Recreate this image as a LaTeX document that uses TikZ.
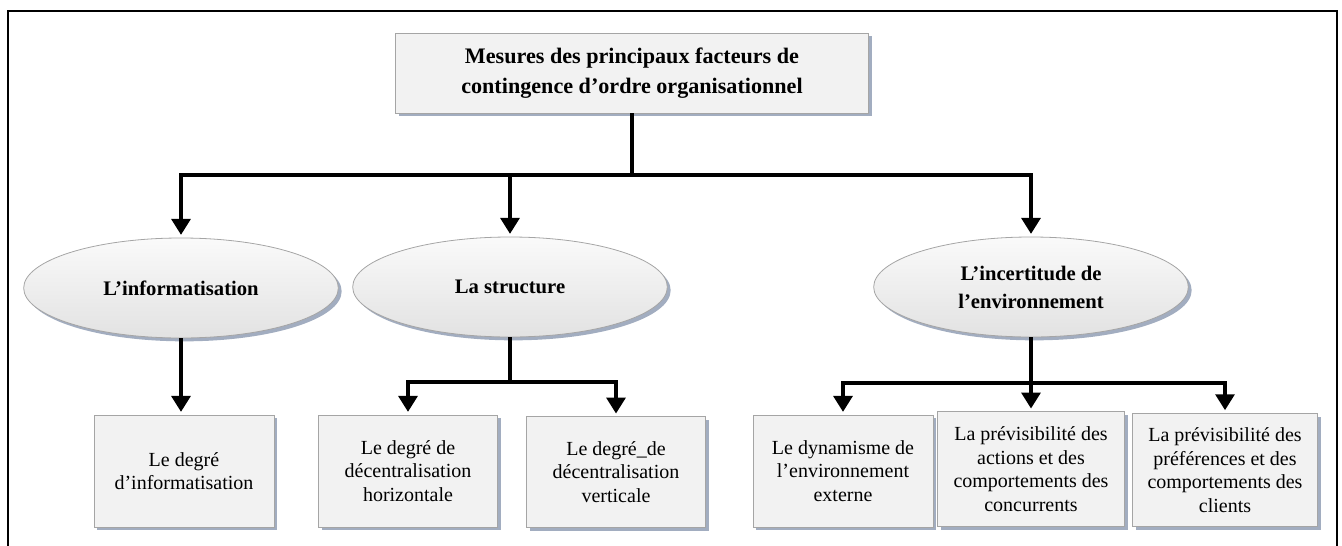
\documentclass[tikz,border=0pt]{standalone}
\usepackage{fontspec}
\setmainfont{Liberation Serif}
\usetikzlibrary{shapes.geometric,shadows,arrows.meta}
\definecolor{boxfill}{RGB}{242,242,242}
\definecolor{boxline}{RGB}{165,165,165}
\definecolor{shade}{RGB}{162,173,192}
\definecolor{ovaltop}{RGB}{250,250,250}
\definecolor{ovalbot}{RGB}{226,226,226}

\begin{document}
\begin{tikzpicture}[x=0.75pt,y=-0.75pt,
    box/.style={draw=boxline, fill=boxfill, line width=0.6pt, align=center, inner sep=2pt,
      drop shadow={shadow xshift=2.5pt, shadow yshift=-2.5pt, fill=shade, opacity=1},
      font=\fontsize{15}{17.6}\selectfont},
    head/.style={box, font=\bfseries\fontsize{16.6}{23}\selectfont},
    oval/.style={ellipse, draw=boxline, line width=0.6pt, top color=ovaltop, bottom color=ovalbot,
      align=center, inner sep=0pt, minimum width=236pt, minimum height=75pt,
      drop shadow={shadow xshift=2.5pt, shadow yshift=-2.5pt, fill=shade, opacity=1},
      font=\bfseries\fontsize{15.5}{21}\selectfont},
    stem/.style={line width=3.2pt},
    link/.style={stem, -{Triangle[width=14pt,length=12pt]}, shorten >=2pt},
  ]
  \useasboundingbox (0,0) rectangle (1342,546);
  % frame
  \draw[line width=1pt] (8,546) -- (8,11) -- (1337,11) -- (1337,546);

  \node[head, minimum width=355pt, minimum height=60pt] (top) at (632,73)
    {Mesures des principaux facteurs de\\contingence d’ordre organisationnel};

  \node[oval] (info) at (181,288) {L’informatisation};
  \node[oval] (struct) at (510,287) {La structure};
  \node[oval] (env) at (1031,287) {L’incertitude de\\l’environnement};

  \node[box, minimum width=135pt, minimum height=84pt] (dinfo) at (184,471)
    {Le degré\\d’informatisation};
  \node[box, minimum width=134pt, minimum height=84pt] (dhoriz) at (408,471)
    {Le degré de\\décentralisation\\horizontale};
  \node[box, minimum width=134pt, minimum height=83pt] (dvert) at (616,472)
    {Le degré\_de\\décentralisation\\verticale};
  \node[box, minimum width=135pt, minimum height=84pt] (dyn) at (843,471)
    {Le dynamisme de\\l’environnement\\externe};
  \node[box, minimum width=140pt, minimum height=86pt] (conc) at (1031,469)
    {La prévisibilité des\\actions et des\\comportements des\\concurrents};
  \node[box, minimum width=139pt, minimum height=85pt] (cli) at (1225,470)
    {La prévisibilité des\\préférences et des\\comportements des\\clients};

  % connectors
  \coordinate (hub) at (632,175);
  \draw[stem] (top.south) -- (hub);
  \draw[link] (hub) -| (info.north);
  \draw[link] (hub) -| (struct.north);
  \draw[link] (hub) -| (env.north);

  \draw[link] (info.south) -- (info.south |- dinfo.north);

  \coordinate (hub2) at (510,382);
  \draw[stem] (struct.south) -- (hub2);
  \draw[link] (hub2) -| (dhoriz.north);
  \draw[link] (hub2) -| (dvert.north);

  \coordinate (hub3) at (1031,383);
  \draw[stem] (env.south) -- (hub3);
  \draw[link] (hub3) -| (dyn.north);
  \draw[link] (hub3) -- (conc.north);
  \draw[link] (hub3) -| (cli.north);
\end{tikzpicture}
\end{document}
